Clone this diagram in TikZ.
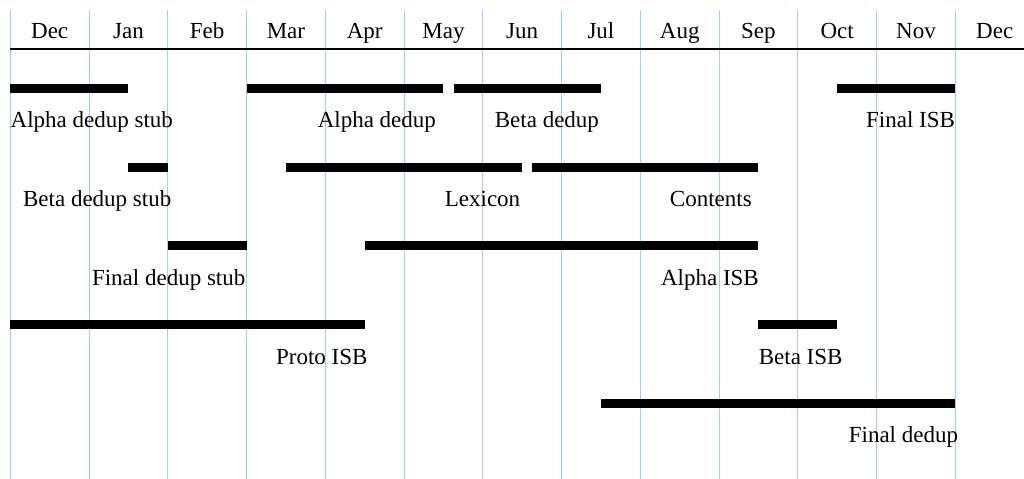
\documentclass[tikz,border=0pt]{standalone}
\usepackage{fontspec}
\setmainfont{Liberation Serif}
\definecolor{gridblue}{RGB}{150,210,255}

\tikzset{
    monthline/.style={draw=gridblue, line width=0.5pt},
    monthlabel/.style={inner sep=0pt, anchor=base, font=\fontsize{11.5}{14}\selectfont},
    taskbar/.style={line width=4.6pt},
    tasklabel/.style={inner sep=0pt, font=\fontsize{11.5}{14}\selectfont},
}

\begin{document}
\begin{tikzpicture}[x=39.375pt, y=-39.375pt]
    \useasboundingbox (-0.1308,-0.6222) rectangle (12.872,5.460);

    % month grid
    \foreach \i in {0,...,12}
        \draw[monthline] (\i,-0.5) -- (\i,5.47);
    \draw[line width=0.6pt] (0,0) -- (12.872,0);
    \foreach \m [count=\i from 0] in {Dec,Jan,Feb,Mar,Apr,May,Jun,Jul,Aug,Sep,Oct,Nov,Dec}
        \node[monthlabel] (m\i) at (\i+0.5,-0.136) {\m};

    % bars
    \draw[taskbar] (0,0.5) -- (1.5,0.5);
    \draw[taskbar] (3,0.5) -- (5.5,0.5);
    \draw[taskbar] (5.63,0.5) -- (7.5,0.5);
    \draw[taskbar] (10.5,0.5) -- (12,0.5);
    \draw[taskbar] (1.5,1.5) -- (2,1.5);
    \draw[taskbar] (3.5,1.5) -- (6.5,1.5);
    \draw[taskbar] (6.63,1.5) -- (9.5,1.5);
    \draw[taskbar] (2,2.5) -- (3,2.5);
    \draw[taskbar] (4.5,2.5) -- (9.5,2.5);
    \draw[taskbar] (0,3.5) -- (4.5,3.5);
    \draw[taskbar] (9.5,3.5) -- (10.5,3.5);
    \draw[taskbar] (7.5,4.5) -- (12,4.5);

    % labels
    \node[tasklabel, anchor=base west] (alphastub) at (0,1) {Alpha dedup stub};
    \node[tasklabel, anchor=base east] (alphadedup) at (5.41,1) {Alpha dedup};
    \node[tasklabel, anchor=base east] (betadedup) at (7.48,1) {Beta dedup};
    \node[tasklabel, anchor=base east] (finalisb) at (12,1) {Final ISB};
    \node[tasklabel, anchor=base east] (betastub) at (2.05,2) {Beta dedup stub};
    \node[tasklabel, anchor=base east] (lexicon) at (6.48,2) {Lexicon};
    \node[tasklabel, anchor=base east] (contents) at (9.42,2) {Contents};
    \node[tasklabel, anchor=base east] (finalstub) at (2.99,3) {Final dedup stub};
    \node[tasklabel, anchor=base east] (alphaisb) at (9.51,3) {Alpha ISB};
    \node[tasklabel, anchor=base east] (protoisb) at (4.54,4) {Proto ISB};
    \node[tasklabel, anchor=base west] (betaisb) at (9.5,4) {Beta ISB};
    \node[tasklabel, anchor=base east] (finaldedup) at (12.04,5) {Final dedup};
\end{tikzpicture}
\end{document}
